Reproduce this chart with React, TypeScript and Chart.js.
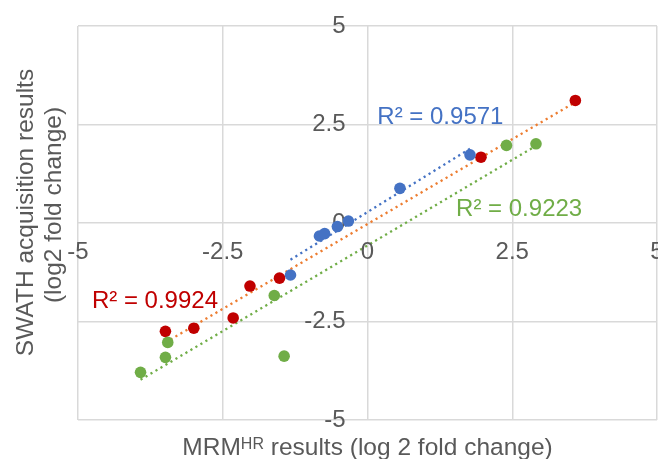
import React, { useEffect, useRef } from "react";
import { Chart, registerables } from "chart.js";

Chart.register(...registerables);

// ---- data (log2 fold change) ----
const RED_X = [-3.49, -3.0, -2.32, -2.03, -1.52, 1.96, 3.59];
const RED_Y = [-2.75, -2.67, -2.41, -1.6, -1.4, 1.67, 3.11];

const BLUE_X = [-1.33, -0.83, -0.74, -0.52, -0.33, 0.56, 1.77];
const BLUE_Y = [-1.32, -0.33, -0.27, -0.09, 0.05, 0.88, 1.73];

const GREEN_X = [-3.92, -3.49, -3.45, -1.61, -1.44, 2.4, 2.91];
const GREEN_Y = [-3.79, -3.41, -3.03, -1.84, -3.38, 1.97, 2.01];

const X_TICKS = [-5, -2.5, 0, 2.5, 5];
const Y_TICKS = [-5, -2.5, 0, 2.5, 5];

const R2_RED = "R² = 0.9924";
const R2_BLUE = "R² = 0.9571";
const R2_GREEN = "R² = 0.9223";

const Y_TITLE = ["SWATH acquisition results", "(log2 fold change)"];
const X_TITLE_MAIN = "MRM";
const X_TITLE_SUP = "HR";
const X_TITLE_REST = " results (log 2 fold change)";

// ---- styles ----
const FONT = "'Liberation Sans', Arial, sans-serif";
const C_RED = "#c00000";
const C_ORANGE = "#ed7d31";
const C_BLUE = "#4472c4";
const C_GREEN = "#70ad47";
const C_TEXT = "#595959";
const C_GRID = "#d9d9d9";

function pts(xs: number[], ys: number[]) {
  return xs.map((x, i) => ({ x, y: ys[i] }));
}

function trend(xs: number[], ys: number[]) {
  const n = xs.length;
  const mx = xs.reduce((a, b) => a + b, 0) / n;
  const my = ys.reduce((a, b) => a + b, 0) / n;
  let sxy = 0;
  let sxx = 0;
  for (let i = 0; i < n; i++) {
    sxy += (xs[i] - mx) * (ys[i] - my);
    sxx += (xs[i] - mx) * (xs[i] - mx);
  }
  const b = sxy / sxx;
  const a = my - b * mx;
  const x0 = Math.min(...xs);
  const x1 = Math.max(...xs);
  return [
    { x: x0, y: a + b * x0 },
    { x: x1, y: a + b * x1 },
  ];
}

const textPlugin = {
  id: "textPlugin",
  afterDraw(chart: any) {
    const ctx = chart.ctx;
    const xs = chart.scales.x;
    const ys = chart.scales.y;
    const area = chart.chartArea;
    ctx.save();
    // x-axis tick labels, placed below the crossing axis (y = 0)
    ctx.font = `24px ${FONT}`;
    ctx.fillStyle = C_TEXT;
    ctx.textAlign = "center";
    ctx.textBaseline = "middle";
    const axisY = ys.getPixelForValue(0);
    for (const t of xs.ticks) {
      ctx.fillText(String(t.value), xs.getPixelForValue(t.value), axisY + 29);
    }
    // R² labels (anchored left/baseline in data units)
    const labels = [
      { t: R2_BLUE, c: C_BLUE, x: 0.17, y: 2.525 },
      { t: R2_GREEN, c: C_GREEN, x: 1.53, y: 0.19 },
      { t: R2_RED, c: C_RED, x: -4.76, y: -2.145 },
    ];
    ctx.textAlign = "left";
    ctx.textBaseline = "alphabetic";
    for (const l of labels) {
      ctx.fillStyle = l.c;
      ctx.fillText(l.t, xs.getPixelForValue(l.x), ys.getPixelForValue(l.y));
    }
    // x title with superscript
    ctx.fillStyle = C_TEXT;
    const mainFont = `24.5px ${FONT}`;
    const supFont = `16px ${FONT}`;
    ctx.font = mainFont;
    const w1 = ctx.measureText(X_TITLE_MAIN).width;
    const w3 = ctx.measureText(X_TITLE_REST).width;
    ctx.font = supFont;
    const w2 = ctx.measureText(X_TITLE_SUP).width;
    const cx = (area.left + area.right) / 2;
    let sx = cx - (w1 + w2 + w3) / 2;
    const by = area.bottom + 35;
    ctx.font = mainFont;
    ctx.fillText(X_TITLE_MAIN, sx, by);
    sx += w1;
    ctx.font = supFont;
    ctx.fillText(X_TITLE_SUP, sx, by - 6);
    sx += w2;
    ctx.font = mainFont;
    ctx.fillText(X_TITLE_REST, sx, by);
    // y title, two rotated lines
    ctx.font = mainFont;
    ctx.textAlign = "center";
    const yl = [
      { x: 33, y: 212.5 },
      { x: 61, y: 205 },
    ];
    Y_TITLE.forEach((line, i) => {
      ctx.save();
      ctx.translate(yl[i].x, yl[i].y);
      ctx.rotate(-Math.PI / 2);
      ctx.fillText(line, 0, 0);
      ctx.restore();
    });
    ctx.restore();
  },
};

export default function App() {
  const ref = useRef<HTMLCanvasElement | null>(null);
  useEffect(() => {
    if (!ref.current) return;
    const pointDs = (label: string, xs: number[], ys: number[], color: string, order: number) => ({
      type: "scatter" as const,
      label,
      data: pts(xs, ys),
      backgroundColor: color,
      borderColor: color,
      borderWidth: 0,
      pointRadius: 5.8,
      pointHoverRadius: 5.8,
      order,
    });
    const lineDs = (label: string, xs: number[], ys: number[], color: string) => ({
      type: "line" as const,
      label,
      data: trend(xs, ys),
      borderColor: color,
      backgroundColor: color,
      borderWidth: 2.3,
      borderDash: [2.2, 3.6],
      pointRadius: 0,
      fill: false,
      order: 10,
    });
    const tickFont = { size: 24, family: FONT };
    const chart = new Chart(ref.current, {
      type: "scatter",
      data: {
        datasets: [
          lineDs("Linear (red)", RED_X, RED_Y, C_ORANGE),
          lineDs("Linear (blue)", BLUE_X, BLUE_Y, C_BLUE),
          lineDs("Linear (green)", GREEN_X, GREEN_Y, C_GREEN),
          pointDs("red", RED_X, RED_Y, C_RED, 3),
          pointDs("blue", BLUE_X, BLUE_Y, C_BLUE, 2),
          pointDs("green", GREEN_X, GREEN_Y, C_GREEN, 1),
        ] as any,
      },
      options: {
        animation: false,
        responsive: false,
        layout: { autoPadding: false, padding: { left: 78, top: 26, right: 1, bottom: 39 } },
        plugins: { legend: { display: false }, tooltip: { enabled: false } },
        scales: {
          x: {
            type: "linear",
            min: -5,
            max: 5,
            position: { y: 0 } as any,
            afterBuildTicks: (s: any) => {
              s.ticks = X_TICKS.map((v) => ({ value: v }));
            },
            ticks: { display: false },
            grid: { color: C_GRID, lineWidth: 1.5, drawTicks: false },
            border: { display: false },
          },
          y: {
            type: "linear",
            min: -5,
            max: 5,
            position: { x: -0.3793 } as any,
            afterBuildTicks: (s: any) => {
              s.ticks = Y_TICKS.map((v) => ({ value: v }));
            },
            ticks: { color: C_TEXT, font: tickFont, padding: 0, autoSkip: false },
            grid: { color: C_GRID, lineWidth: 1.5, drawTicks: false },
            border: { display: false },
          },
        },
      },
      plugins: [textPlugin],
    });
    return () => chart.destroy();
  }, []);
  return (
    <div style={{ position: "absolute", left: 0, top: 0, width: 658, height: 459, background: "#fff" }}>
      <canvas ref={ref} width={658} height={459} style={{ display: "block" }} />
    </div>
  );
}
